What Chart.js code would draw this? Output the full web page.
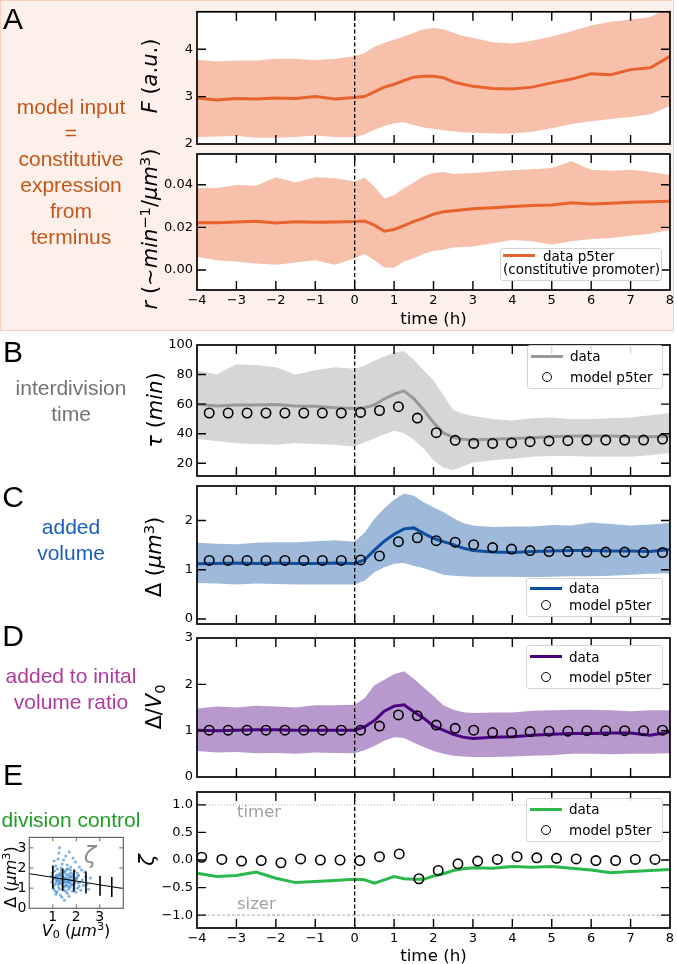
<!DOCTYPE html>
<html>
<head>
<meta charset="utf-8">
<script src="https://cdn.jsdelivr.net/npm/chart.js@4.4.1/dist/chart.umd.min.js"></script>
<style>
  body { margin: 0; background: #fff; }
  #fig { position: relative; width: 677px; height: 964px; overflow: hidden; font-family: 'DejaVu Sans', sans-serif; }
  .boxA { position: absolute; left: 0; top: 0; width: 672px; height: 329px; background: #fdf0ea; border: 1.5px solid #f8cdb9; }
  .t { position: absolute; white-space: nowrap; }
  .letter { font-family: 'Liberation Sans', Arial, sans-serif; font-size: 30px; transform: translate(-50%, -50%); }
  .note { font-family: 'Liberation Sans', Arial, sans-serif; font-size: 21px; line-height: 26px; width: 150px; text-align: center; white-space: normal; }
  .ytitle { font-size: 21px; transform: translate(-50%, -50%) rotate(-90deg); }
  .xtitle { font-size: 16.7px; transform: translate(-50%, -50%); }
  sup { font-size: 0.7em; vertical-align: 0.5em; line-height: 0; }
  sub { font-size: 0.7em; vertical-align: -0.25em; line-height: 0; }
  .legend { position: absolute; background: rgba(255,255,255,0.85); border: 1px solid #d4d4d4; border-radius: 3px; box-sizing: border-box; }
  .lt { position: absolute; font-size: 13.5px; height: 20px; line-height: 20px; white-space: nowrap; }
  .hl { position: absolute; width: 32px; height: 3px; }
  .hc { position: absolute; width: 10px; height: 10px; box-sizing: border-box; border: 1.6px solid #000; border-radius: 50%; }
  #charts canvas { position: absolute; }
  #over { position: absolute; left: 0; top: 0; width: 677px; height: 964px; }
</style>
</head>
<body>
<div id="fig">
  <div class="boxA"></div>
  <div id="charts"></div>
  <div id="over">
    <div class="t letter" style="left:13px;top:19px;">A</div>
    <div class="t letter" style="left:13px;top:352px;">B</div>
    <div class="t letter" style="left:13px;top:497px;">C</div>
    <div class="t letter" style="left:13px;top:636px;">D</div>
    <div class="t letter" style="left:13px;top:775px;">E</div>

    <div class="t note" style="left:-4px;top:94px;color:#c4561a;">model input<br>=<br>constitutive<br>expression<br>from<br>terminus</div>
    <div class="t note" style="left:-4px;top:375px;color:#737373;">interdivision<br>time</div>
    <div class="t note" style="left:-4px;top:514px;color:#1a5cc0;">added<br>volume</div>
    <div class="t note" style="left:-4px;top:663px;color:#b03aa0;">added to inital<br>volume ratio</div>
    <div class="t note" style="left:-4px;top:807px;color:#1f9e25;">division control</div>

    <div class="t ytitle" style="left:150px;top:76px;"><i>F</i> (<i>a</i>.<i>u</i>.)</div>
    <div class="t ytitle" style="left:150px;top:229px;"><i>r</i> (∼<i>min</i><sup>−1</sup>/<i>μm</i><sup>3</sup>)</div>
    <div class="t ytitle" style="left:155px;top:410px;"><i>τ</i> (<i>min</i>)</div>
    <div class="t ytitle" style="left:154px;top:557px;">Δ (<i>μm</i><sup>3</sup>)</div>
    <div class="t ytitle" style="left:154px;top:707px;">Δ/<i>V</i><sub>0</sub></div>
    <div class="t ytitle" style="left:147px;top:860px;"><i>ζ</i></div>
    <div class="t xtitle" style="left:433.5px;top:318px;">time (h)</div>
    <div class="t xtitle" style="left:433.5px;top:955px;">time (h)</div>

    <div class="t" style="left:237px;top:802px;font-size:16.5px;color:#a0a0a0;">timer</div>
    <div class="t" style="left:237px;top:894px;font-size:16.5px;color:#a0a0a0;">sizer</div>

    <div class="t ytitle" style="left:10px;top:877px;font-size:16px;">Δ (<i>μm</i><sup>3</sup>)</div>
    <div class="t xtitle" style="left:76px;top:930px;font-size:16px;"><i>V</i><sub>0</sub> (<i>μm</i><sup>3</sup>)</div>
    <div class="t" style="left:90px;top:855px;font-size:23px;color:#8a8a8a;transform:translate(-50%,-50%);"><i>ζ</i></div>

    <!-- legend A -->
    <div class="legend" style="left:500px;top:248px;width:162px;height:33px;"></div>
    <div class="hl" style="left:503px;top:254px;background:#e8622e;"></div>
    <div class="lt" style="left:543px;top:246px;">data p5ter</div>
    <div class="lt" style="left:503px;top:259px;">(constitutive promoter)</div>

    <!-- legend B -->
    <div class="legend" style="left:527px;top:345px;width:136px;height:44px;"></div>
    <div class="hl" style="left:531px;top:354.5px;background:#999999;"></div>
    <div class="lt" style="left:570px;top:346px;">data</div>
    <div class="hc" style="left:542px;top:371.7px;"></div>
    <div class="lt" style="left:570px;top:366.7px;">model p5ter</div>

    <!-- legend C -->
    <div class="legend" style="left:526px;top:578px;width:137px;height:39px;"></div>
    <div class="hl" style="left:530px;top:587px;background:#0d4fa0;"></div>
    <div class="lt" style="left:569px;top:578.3px;">data</div>
    <div class="hc" style="left:541px;top:600px;"></div>
    <div class="lt" style="left:569px;top:595px;">model p5ter</div>

    <!-- legend D -->
    <div class="legend" style="left:526px;top:645px;width:137px;height:44px;"></div>
    <div class="hl" style="left:530px;top:655.2px;background:#4b0082;"></div>
    <div class="lt" style="left:569px;top:646.7px;">data</div>
    <div class="hc" style="left:541px;top:672.3px;"></div>
    <div class="lt" style="left:569px;top:667.3px;">model p5ter</div>

    <!-- legend E -->
    <div class="legend" style="left:526px;top:798px;width:137px;height:44px;"></div>
    <div class="hl" style="left:530px;top:807.5px;background:#2ab84a;"></div>
    <div class="lt" style="left:569px;top:799px;">data</div>
    <div class="hc" style="left:541px;top:825px;"></div>
    <div class="lt" style="left:569px;top:820px;">model p5ter</div>
  </div>
</div>

<script>
// ---- data ----
const time = [-4, -3.5, -3, -2.5, -2, -1.5, -1, -0.5, 0, 0.25, 0.5, 0.75, 1, 1.25, 1.5, 1.75, 2, 2.25, 2.5, 2.75, 3, 3.5, 4, 4.5, 5, 5.5, 6, 6.5, 7, 7.5, 8];
const modelTime = [-3.69, -3.21, -2.73, -2.25, -1.77, -1.29, -0.82, -0.34, 0.15, 0.63, 1.11, 1.59, 2.07, 2.55, 3.02, 3.5, 3.98, 4.45, 4.93, 5.41, 5.89, 6.37, 6.85, 7.33, 7.81];
const zetaModelTime = [-3.88, -3.37, -2.87, -2.37, -1.87, -1.37, -0.87, -0.37, 0.13, 0.63, 1.13, 1.63, 2.12, 2.62, 3.12, 3.62, 4.12, 4.62, 5.12, 5.62, 6.12, 6.62, 7.12, 7.62];
const xTicks = [-4, 8];

// A: fluorescence F
const fMean = [2.97, 2.93, 2.96, 2.95, 2.97, 2.96, 3.0, 2.95, 2.98, 3.0, 3.1, 3.2, 3.26, 3.34, 3.41, 3.43, 3.43, 3.4, 3.31, 3.26, 3.22, 3.17, 3.16, 3.2, 3.29, 3.37, 3.48, 3.46, 3.57, 3.61, 3.85];
const fHigh = [3.78, 3.74, 3.76, 3.76, 3.8, 3.8, 3.77, 3.8, 3.85, 3.92, 4.05, 4.13, 4.2, 4.27, 4.35, 4.42, 4.45, 4.42, 4.35, 4.28, 4.24, 4.15, 4.12, 4.18, 4.27, 4.38, 4.5, 4.58, 4.63, 4.68, 4.9];
const fLow = [2.14, 2.16, 2.17, 2.13, 2.13, 2.15, 2.18, 2.15, 2.14, 2.2, 2.3, 2.38, 2.44, 2.46, 2.4, 2.35, 2.32, 2.29, 2.27, 2.25, 2.24, 2.22, 2.22, 2.26, 2.33, 2.42, 2.48, 2.53, 2.57, 2.63, 2.8];

// A: production rate r
const rMean = [0.0222, 0.0222, 0.0225, 0.0228, 0.022, 0.0226, 0.0224, 0.0225, 0.0227, 0.023, 0.021, 0.0182, 0.019, 0.0208, 0.0228, 0.0243, 0.0262, 0.0273, 0.0278, 0.0283, 0.0287, 0.0292, 0.0298, 0.0302, 0.0305, 0.0315, 0.031, 0.0313, 0.0318, 0.032, 0.0322];
const rHigh = [0.0383, 0.0385, 0.0398, 0.0395, 0.0435, 0.041, 0.0435, 0.043, 0.0415, 0.0432, 0.039, 0.0335, 0.035, 0.0385, 0.041, 0.044, 0.0455, 0.046, 0.045, 0.0452, 0.0455, 0.0462, 0.0468, 0.0472, 0.0478, 0.051, 0.047, 0.0465, 0.047, 0.046, 0.0445];
const rLow = [0.0062, 0.0045, 0.004, 0.003, 0.0025, 0.0035, 0.0045, 0.0025, 0.0055, 0.0075, 0.0045, 0.0012, 0.001, 0.004, 0.0055, 0.0075, 0.009, 0.0095, 0.0105, 0.0108, 0.011, 0.0125, 0.014, 0.0135, 0.012, 0.0135, 0.0145, 0.015, 0.016, 0.017, 0.0187];

// B: interdivision time
const tauMean = [60, 58.8, 59.5, 59.5, 59.8, 58.8, 58.5, 57.5, 57, 57.5, 59.5, 63.5, 66.8, 69, 63.7, 56, 47.6, 40.5, 37.5, 36.2, 35.7, 36.3, 36.8, 37.3, 38, 38.5, 38.5, 38.4, 38, 38, 38.2];
const tauHigh = [83, 80, 87, 86.5, 85, 80, 83, 85, 84, 86, 89.5, 92, 95, 96, 90, 83, 76, 66, 56, 53.5, 52, 50, 49, 50.5, 51, 49.7, 50, 50.4, 51, 52.5, 54];
const tauLow = [36.4, 35, 33.6, 33, 32.5, 33.6, 33, 32.5, 31.4, 34, 37, 39.5, 42, 40.5, 36, 30, 22, 17, 15.5, 18, 20.6, 22, 23, 24.5, 25, 25, 24.5, 24.4, 24.4, 25.5, 27];
const tauModel = [54, 54, 54, 54, 54, 54, 54, 54, 54.4, 55.7, 58.3, 50.6, 40.7, 35.5, 33.4, 33.4, 33.8, 34.6, 35.1, 35.3, 35.7, 35.7, 35.7, 35.7, 36.4];

// C: added volume
const addMean = [1.12, 1.13, 1.14, 1.13, 1.14, 1.13, 1.13, 1.14, 1.13, 1.2, 1.4, 1.58, 1.72, 1.83, 1.85, 1.74, 1.64, 1.57, 1.51, 1.44, 1.39, 1.36, 1.35, 1.37, 1.38, 1.39, 1.39, 1.38, 1.38, 1.37, 1.41];
const addHigh = [1.55, 1.53, 1.52, 1.55, 1.56, 1.56, 1.58, 1.6, 1.57, 1.75, 2.03, 2.25, 2.42, 2.55, 2.5, 2.37, 2.27, 2.17, 2.05, 1.95, 1.9, 1.87, 1.88, 1.88, 1.91, 1.9, 1.96, 1.93, 1.9, 1.92, 1.95];
const addLow = [0.73, 0.72, 0.7, 0.72, 0.71, 0.7, 0.7, 0.7, 0.7, 0.78, 0.95, 1.05, 1.12, 1.14, 1.08, 1.03, 0.97, 0.9, 0.88, 0.87, 0.86, 0.86, 0.86, 0.85, 0.86, 0.87, 0.87, 0.88, 0.9, 0.92, 0.93];
const addModel = [1.19, 1.19, 1.19, 1.19, 1.19, 1.19, 1.19, 1.19, 1.2, 1.28, 1.57, 1.65, 1.59, 1.56, 1.51, 1.45, 1.42, 1.39, 1.37, 1.37, 1.36, 1.36, 1.36, 1.35, 1.35];

// D: added / initial volume
const ratioMean = [1.01, 1.0, 1.01, 1.02, 1.02, 1.01, 1.01, 1.01, 1.01, 1.08, 1.22, 1.42, 1.53, 1.56, 1.41, 1.27, 1.1, 1.01, 0.92, 0.86, 0.83, 0.86, 0.87, 0.9, 0.92, 0.94, 0.94, 0.95, 0.95, 0.9, 0.97];
const ratioHigh = [1.48, 1.52, 1.5, 1.54, 1.52, 1.5, 1.55, 1.55, 1.56, 1.7, 1.98, 2.1, 2.22, 2.28, 2.12, 1.93, 1.75, 1.55, 1.45, 1.4, 1.38, 1.39, 1.39, 1.43, 1.44, 1.45, 1.45, 1.44, 1.42, 1.44, 1.44];
const ratioLow = [0.56, 0.53, 0.54, 0.51, 0.52, 0.5, 0.53, 0.52, 0.51, 0.58, 0.67, 0.78, 0.86, 0.84, 0.74, 0.65, 0.56, 0.5, 0.46, 0.44, 0.43, 0.43, 0.44, 0.46, 0.47, 0.5, 0.5, 0.49, 0.5, 0.5, 0.51];
const ratioModel = [1.01, 1.01, 1.01, 1.01, 1.01, 1.01, 1.01, 1.01, 1.01, 1.1, 1.34, 1.32, 1.12, 1.05, 1.01, 0.96, 0.96, 0.98, 0.99, 0.99, 1.0, 1.0, 1.0, 1.0, 1.01];

// E: division control zeta
const zetaData = [-0.24, -0.3, -0.28, -0.22, -0.33, -0.41, -0.39, -0.37, -0.35, -0.36, -0.42, -0.36, -0.3, -0.34, -0.35, -0.35, -0.29, -0.25, -0.19, -0.16, -0.14, -0.15, -0.12, -0.13, -0.12, -0.15, -0.18, -0.23, -0.21, -0.19, -0.17];
const zetaModel = [0.05, 0.01, -0.02, -0.01, -0.05, 0.02, 0.0, 0.0, -0.01, 0.06, 0.11, -0.34, -0.19, -0.07, -0.02, 0.01, 0.06, 0.04, 0.03, 0.02, -0.01, -0.01, 0.01, 0.01];
const timerLevel = 1.0;
const sizerLevel = -1.0;

// E inset: added volume vs birth volume
const cellV0 = [1.02, 1.05, 1.08, 1.1, 1.12, 1.15, 1.18, 1.2, 1.22, 1.25, 1.27, 1.3, 1.32, 1.35, 1.37, 1.4, 1.42, 1.45, 1.47, 1.5, 1.52, 1.55, 1.57, 1.6, 1.62, 1.65, 1.68, 1.7, 1.73, 1.76, 1.8, 1.84, 1.88, 1.92, 1.96, 2.0, 2.05, 2.1, 2.16, 2.22, 2.3, 2.4, 2.52,
  0.95, 0.98, 1.03, 1.06, 1.09, 1.13, 1.16, 1.19, 1.23, 1.26, 1.28, 1.31, 1.34, 1.36, 1.39, 1.41, 1.44, 1.46, 1.49, 1.51, 1.54, 1.56, 1.59, 1.61, 1.64, 1.67, 1.69, 1.72, 1.75, 1.78, 1.82, 1.86, 1.9, 1.94, 1.98, 2.03, 2.08, 2.13, 2.19, 2.26, 2.35, 2.45, 2.6,
  1.1, 1.14, 1.17, 1.21, 1.24, 1.29, 1.33, 1.38, 1.43, 1.48, 1.53, 1.58, 1.63, 1.66, 1.71, 1.74, 1.79, 1.83, 1.87, 1.91, 1.95, 2.02, 2.07, 2.12, 1.26, 1.34, 1.41, 1.47, 1.55, 1.6, 1.68, 1.77, 1.85, 1.93, 0.92, 1.0, 1.12, 1.28, 1.5, 1.7];
const cellDelta = [1.45, 0.95, 1.85, 1.2, 2.1, 1.6, 0.8, 1.35, 2.45, 1.05, 1.7, 1.25, 0.65, 1.9, 1.45, 2.2, 1.1, 1.55, 0.9, 1.75, 1.3, 2.6, 1.15, 1.5, 0.75, 1.95, 1.25, 1.6, 1.05, 2.05, 1.35, 0.85, 1.7, 1.2, 2.3, 1.45, 1.0, 1.65, 1.3, 1.9, 1.15, 1.55, 0.95,
  1.3, 1.75, 1.1, 2.35, 1.55, 0.7, 1.4, 1.95, 1.2, 2.75, 0.95, 1.65, 1.35, 2.0, 0.55, 1.8, 1.25, 2.4, 1.05, 1.5, 1.85, 0.85, 1.3, 2.15, 1.1, 1.7, 0.6, 1.4, 1.9, 1.15, 1.55, 2.5, 1.0, 1.45, 0.8, 1.75, 1.25, 2.05, 0.9, 1.4, 1.8, 1.2, 1.5,
  1.5, 1.3, 1.65, 1.45, 1.55, 1.4, 1.6, 1.2, 1.5, 1.35, 1.45, 1.65, 1.4, 1.3, 1.5, 1.25, 1.6, 1.4, 1.15, 1.55, 1.3, 1.5, 1.6, 1.1, 1.25, 1.75, 0.95, 1.85, 1.15, 1.95, 0.95, 1.75, 1.2, 1.85, 1.6, 2.0, 0.85, 3.0, 0.4, 2.8];
const binV0 = [1.0, 1.42, 1.9, 2.41, 3.01, 3.51];
const binMean = [1.55, 1.42, 1.38, 1.28, 1.12, 1.06];
const binSd = [0.58, 0.55, 0.55, 0.55, 0.5, 0.5];
const fitV0 = [0, 4];
const fitDelta = [1.72, 0.98];

// ---- drawing helpers ----
Chart.defaults.font.family = "'DejaVu Sans', sans-serif";
Chart.defaults.font.size = 13;
Chart.defaults.color = '#000';

const minus = s => String(s).replace('-', '\u2212');

// white plot area, black frame and matplotlib-like inward ticks on all four sides
const frameTicks = {
  id: 'frameTicks',
  beforeDraw(chart) {
    const { ctx, chartArea: a } = chart;
    ctx.save();
    ctx.fillStyle = '#fff';
    ctx.fillRect(a.left, a.top, a.width, a.height);
    ctx.restore();
  },
  afterDatasetsDraw(chart, args, o) {
    const { ctx, chartArea: a, scales } = chart;
    const len = o.len;
    ctx.save();
    ctx.strokeStyle = o.color;
    ctx.lineWidth = o.tickWidth;
    ctx.beginPath();
    scales.x.ticks.forEach(t => {
      const p = scales.x.getPixelForValue(t.value);
      if (p <= a.left + 1 || p >= a.right - 1) return;
      ctx.moveTo(p, a.top); ctx.lineTo(p, a.top + len);
      ctx.moveTo(p, a.bottom); ctx.lineTo(p, a.bottom - len);
    });
    scales.y.ticks.forEach(t => {
      const p = scales.y.getPixelForValue(t.value);
      if (p <= a.top + 1 || p >= a.bottom - 1) return;
      ctx.moveTo(a.left, p); ctx.lineTo(a.left + len, p);
      ctx.moveTo(a.right, p); ctx.lineTo(a.right - len, p);
    });
    ctx.stroke();
    ctx.lineWidth = o.frameWidth;
    ctx.strokeRect(a.left, a.top, a.width, a.height);
    ctx.restore();
  }
};

function points(xs, ys) {
  return xs.map((x, i) => ({ x: x, y: ys[i] }));
}

function bandSets(mean, low, high, line, band) {
  return [
    { data: points(time, mean), borderColor: line, borderWidth: 3, pointRadius: 0, order: 2 },
    { data: points(time, low), borderWidth: 0, borderColor: 'rgba(0,0,0,0)', pointRadius: 0, fill: false, order: 4 },
    { data: points(time, high), borderWidth: 0, borderColor: 'rgba(0,0,0,0)', pointRadius: 0, fill: '-1', backgroundColor: band, order: 5 }
  ];
}

function modelSet(xs, ys) {
  return {
    data: points(xs, ys), showLine: false, pointRadius: 4.7, pointBorderWidth: 1.6,
    pointBorderColor: '#000', pointBackgroundColor: 'rgba(0,0,0,0)', order: 0
  };
}

function zeroLine(ymin, ymax) {
  return {
    data: [{ x: 0, y: ymin }, { x: 0, y: ymax }], borderColor: '#000', borderWidth: 1.3,
    borderDash: [4, 2.5], pointRadius: 0, order: 1
  };
}

function mkCanvas(left, top, width, height) {
  const c = document.createElement('canvas');
  c.width = width; c.height = height;
  c.style.left = left + 'px'; c.style.top = top + 'px';
  c.style.width = width + 'px'; c.style.height = height + 'px';
  document.getElementById('charts').appendChild(c);
  return c;
}

function timePanel(p) {
  const plotLeft = 197, plotRight = 670, yAxisW = 50, xAxisH = 25;
  const padTop = Math.min(12, p.top), padBottom = 30;
  const c = mkCanvas(0, p.top - padTop, 677, padTop + (p.bottom - p.top) + padBottom);
  return new Chart(c, {
    type: 'line',
    data: { datasets: p.datasets },
    options: {
      responsive: false,
      animation: false,
      layout: { padding: { left: plotLeft - yAxisW, right: 677 - plotRight, top: padTop, bottom: padBottom - xAxisH } },
      plugins: {
        legend: { display: false },
        tooltip: { enabled: false },
        frameTicks: { len: 9, color: '#000', tickWidth: 1.4, frameWidth: 1.7 }
      },
      scales: {
        x: {
          type: 'linear', min: xTicks[0], max: xTicks[1],
          grid: { display: false, drawTicks: false }, border: { display: false },
          ticks: { stepSize: 1, display: !!p.xLabels, padding: 2.5, autoSkip: false, maxRotation: 0, callback: v => minus(v) },
          afterFit: s => { s.height = xAxisH; }
        },
        y: {
          min: p.ymin, max: p.ymax,
          grid: { display: false, drawTicks: false }, border: { display: false },
          ticks: { stepSize: p.step, includeBounds: false, padding: 4, callback: p.fmt },
          afterFit: s => { s.width = yAxisW; }
        }
      }
    },
    plugins: [frameTicks]
  });
}

// A – F
timePanel({
  top: 7, bottom: 144, ymin: 2, ymax: 4.79, step: 1, fmt: v => v,
  datasets: [zeroLine(2, 4.79)].concat(bandSets(fMean, fLow, fHigh, '#e8622e', 'rgba(232,98,46,0.4)'))
});
// A – r
timePanel({
  top: 154, bottom: 290, ymin: -0.0094, ymax: 0.0544, step: 0.02, fmt: v => v.toFixed(2), xLabels: true,
  datasets: [zeroLine(-0.0094, 0.0544)].concat(bandSets(rMean, rLow, rHigh, '#e8622e', 'rgba(232,98,46,0.4)'))
});
// B – tau
timePanel({
  top: 345, bottom: 476, ymin: 11.4, ymax: 100, step: 20, fmt: v => v,
  datasets: [modelSet(modelTime, tauModel), zeroLine(11.4, 100)].concat(bandSets(tauMean, tauLow, tauHigh, '#999999', 'rgba(153,153,153,0.4)'))
});
// C – added volume
timePanel({
  top: 486, bottom: 624, ymin: -0.1, ymax: 2.7, step: 1, fmt: v => v,
  datasets: [modelSet(modelTime, addModel), zeroLine(-0.1, 2.7)].concat(bandSets(addMean, addLow, addHigh, '#0d4fa0', 'rgba(13,79,160,0.4)'))
});
// D – ratio
timePanel({
  top: 638, bottom: 777, ymin: 0, ymax: 3, step: 1, fmt: v => v,
  datasets: [modelSet(modelTime, ratioModel), zeroLine(0, 3)].concat(bandSets(ratioMean, ratioLow, ratioHigh, '#4b0082', 'rgba(75,0,130,0.4)'))
});
// E – zeta
timePanel({
  top: 792, bottom: 928, ymin: -1.233, ymax: 1.233, step: 0.5, fmt: v => minus(v.toFixed(1)), xLabels: true,
  datasets: [
    modelSet(zetaModelTime, zetaModel),
    zeroLine(-1.233, 1.233),
    { data: points(time, zetaData), borderColor: '#2ab84a', borderWidth: 3, pointRadius: 0, order: 2 },
    { data: [{ x: xTicks[0], y: timerLevel }, { x: xTicks[1], y: timerLevel }], borderColor: '#b4b4b4', borderWidth: 1, borderDash: [1, 2], pointRadius: 0, order: 3 },
    { data: [{ x: xTicks[0], y: sizerLevel }, { x: xTicks[1], y: sizerLevel }], borderColor: '#a8a8a8', borderWidth: 1, borderDash: [3, 2], pointRadius: 0, order: 3 }
  ]
});

// E inset
(function () {
  const left = 0, top = 826, w = 135, h = 120, yAxisW = 26, xAxisH = 20;
  const c = mkCanvas(left, top, w, h);
  const bars = binV0.map((v, i) => ({
    data: [{ x: v, y: binMean[i] - binSd[i] }, { x: v, y: binMean[i] + binSd[i] }],
    borderColor: '#000', borderWidth: 1.6, pointRadius: 0, order: 0
  }));
  new Chart(c, {
    type: 'line',
    data: {
      datasets: [
        { data: points(cellV0, cellDelta), showLine: false, pointRadius: 1.5, pointBorderWidth: 0, pointBackgroundColor: 'rgba(60,135,210,0.65)', order: 3 },
        { data: points(fitV0, fitDelta), borderColor: '#000', borderWidth: 1, pointRadius: 0, order: 1 }
      ].concat(bars)
    },
    options: {
      responsive: false,
      animation: false,
      layout: { padding: { left: 29.3 - yAxisW, right: w - 123.3, top: 836.7 - top, bottom: h - (908.3 - top) - xAxisH } },
      plugins: {
        legend: { display: false },
        tooltip: { enabled: false },
        frameTicks: { len: 4, color: '#666', tickWidth: 1, frameWidth: 1.2 }
      },
      scales: {
        x: {
          type: 'linear', min: 0, max: 4,
          grid: { display: false, drawTicks: false }, border: { display: false },
          ticks: { stepSize: 1, padding: 1, font: { size: 14 }, autoSkip: false, maxRotation: 0, callback: v => (v >= 1 && v <= 3 ? v : '') },
          afterFit: s => { s.height = xAxisH; }
        },
        y: {
          min: 0, max: 3.52,
          grid: { display: false, drawTicks: false }, border: { display: false },
          ticks: { stepSize: 1, includeBounds: false, padding: 3, font: { size: 14 } },
          afterFit: s => { s.width = yAxisW; }
        }
      }
    },
    plugins: [frameTicks]
  });
})();
</script>
</body>
</html>
